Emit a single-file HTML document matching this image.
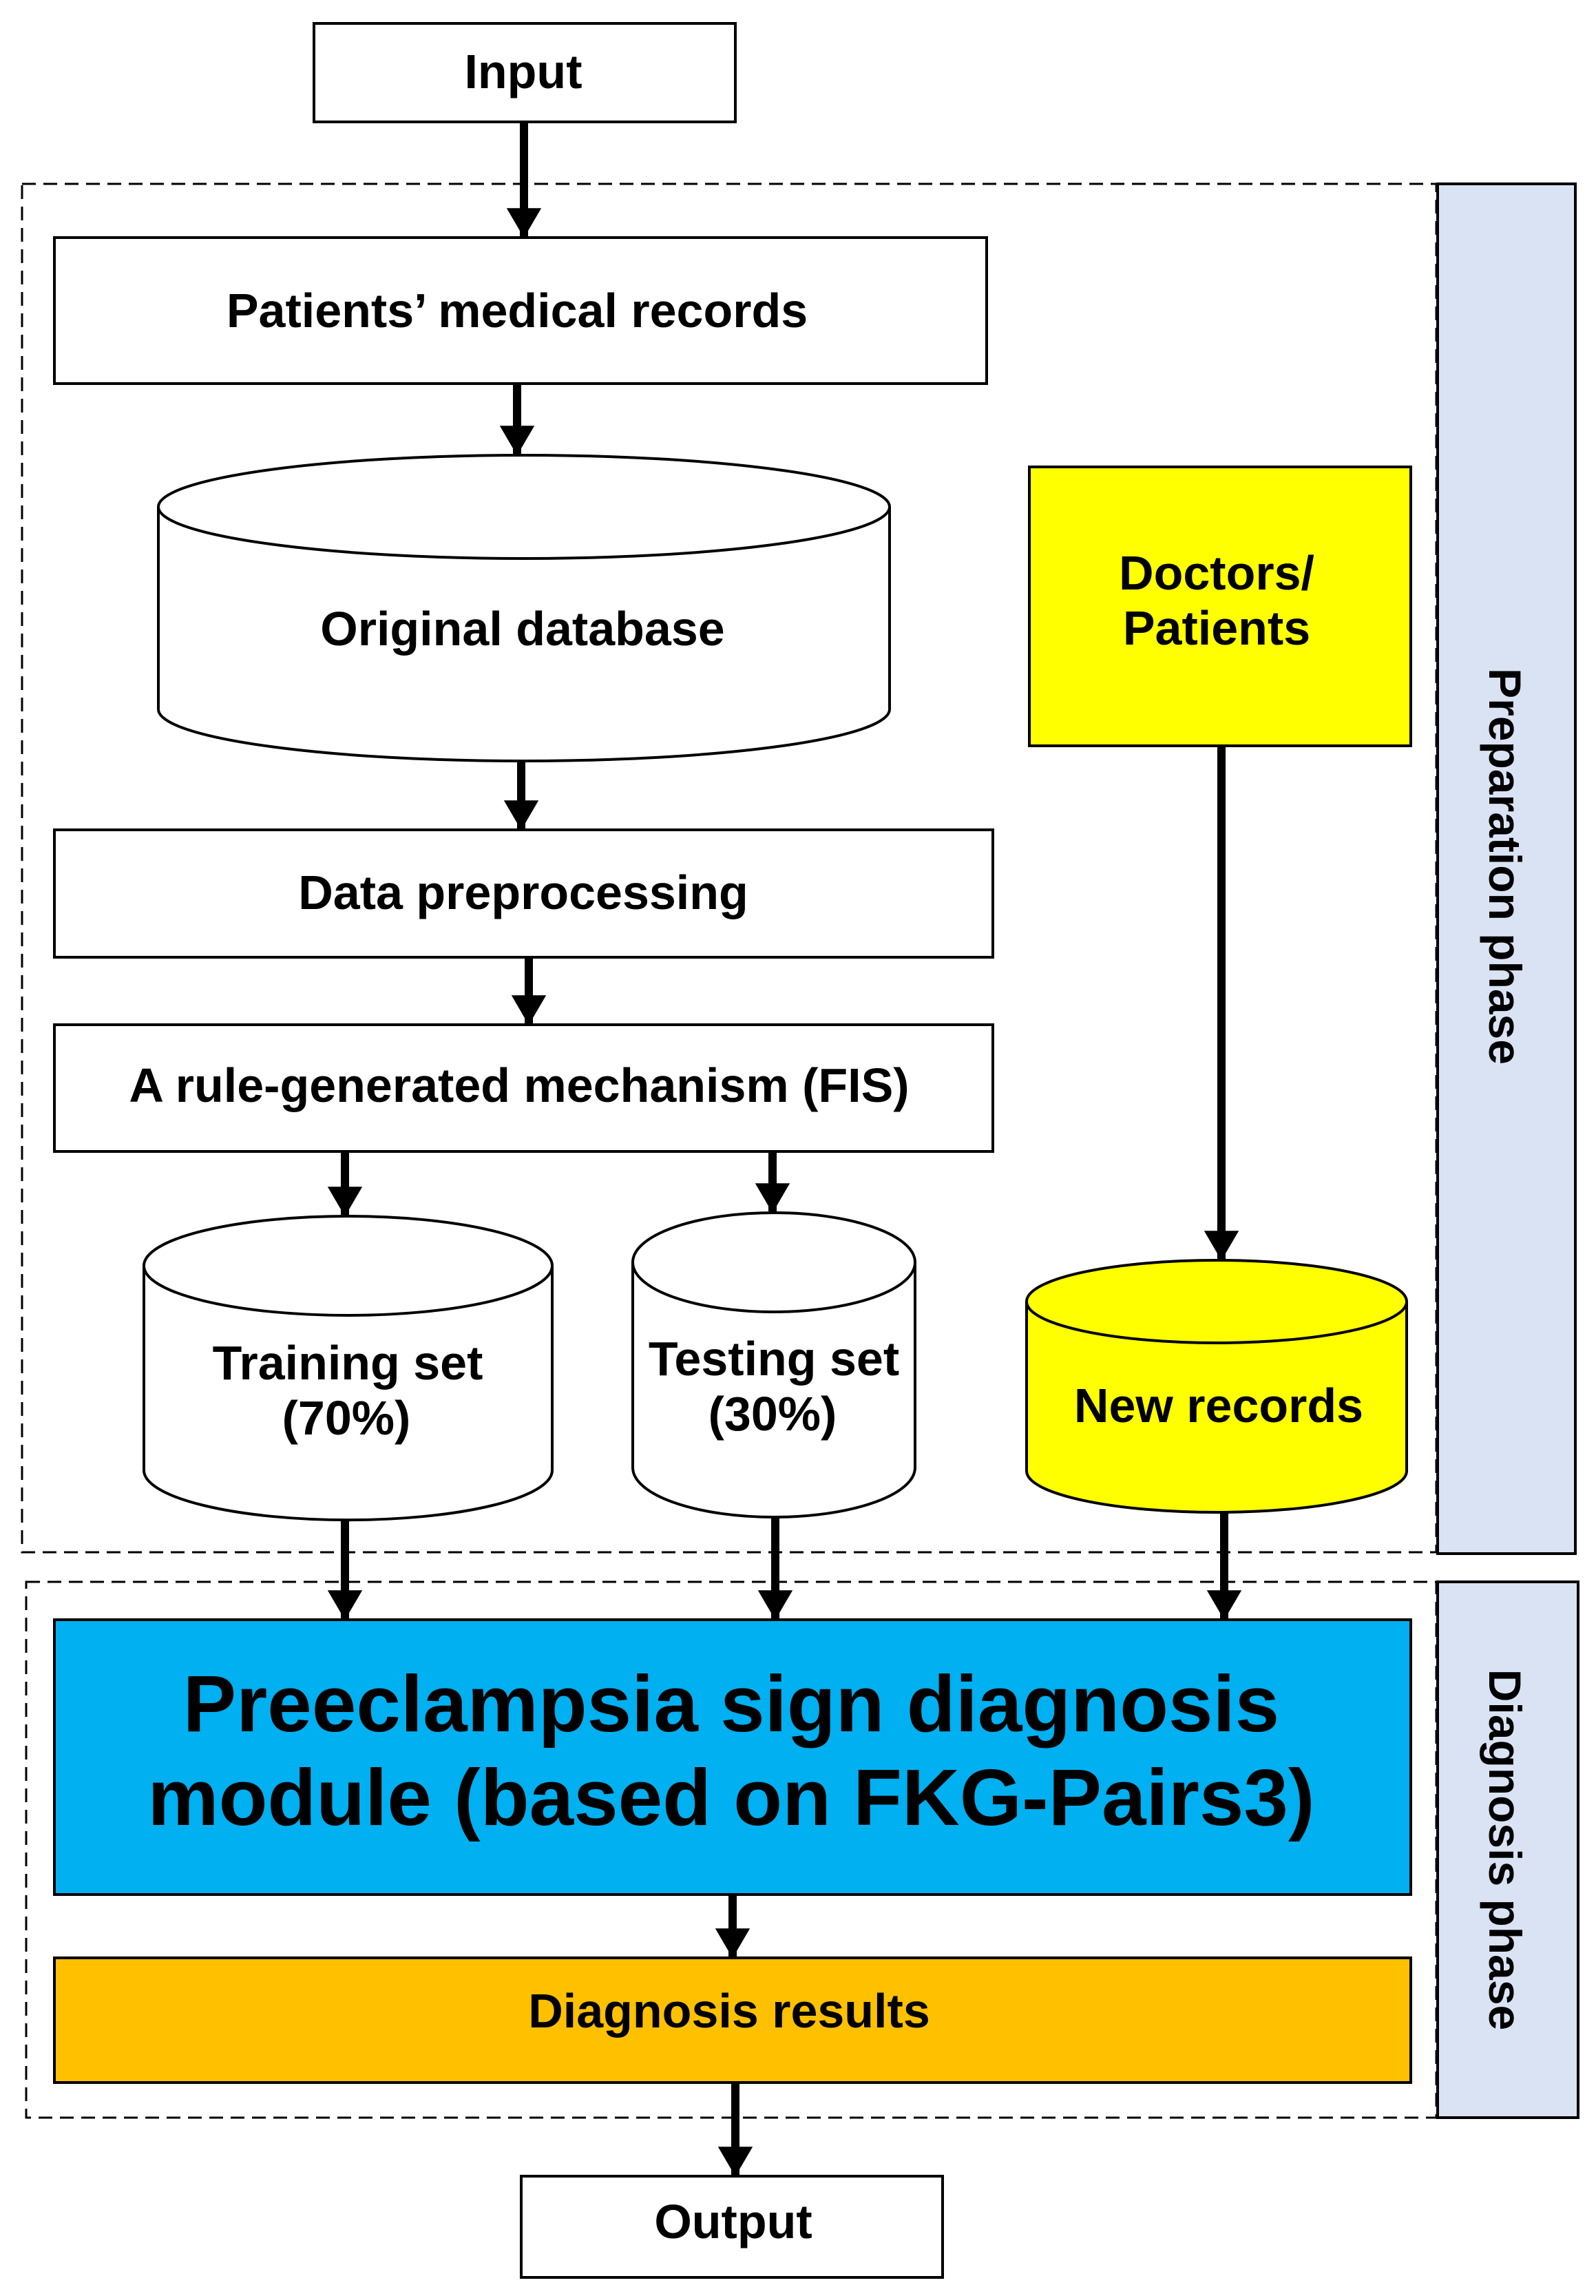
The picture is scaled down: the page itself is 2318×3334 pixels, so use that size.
<!DOCTYPE html>
<html><head><meta charset="utf-8"><style>html,body{margin:0;padding:0;background:#fff}svg{display:block}text{font-family:"Liberation Sans",Arial,sans-serif;font-weight:bold;fill:#000}</style></head><body>
<svg width="2318" height="3334" viewBox="0 0 2318 3334" xmlns="http://www.w3.org/2000/svg">
<defs><marker id="a" markerWidth="5" markerHeight="5" refX="3.4" refY="2.2" orient="auto" markerUnits="strokeWidth"><path d="M0,0.1 L3.6,2.2 L0,4.3 Z" fill="#000"/></marker></defs>
<g stroke="#000" stroke-width="4">
<rect x="456" y="34" width="612" height="143" fill="#fff"/>
<rect x="32" y="267" width="2054" height="1987" fill="none" stroke-width="3" stroke-dasharray="20 11"/>
<rect x="2088" y="267" width="200" height="1989" fill="#dae3f3"/>
<rect x="79" y="345" width="1354" height="212" fill="#fff"/>
<path d="M230,736 L230,1030 A531,75 0 0 0 1292,1030 L1292,736" fill="#fff"/>
<ellipse cx="761" cy="736" rx="531" ry="75" fill="#fff"/>
<rect x="79" y="1205" width="1363" height="185" fill="#fff"/>
<rect x="79" y="1488" width="1363" height="184" fill="#fff"/>
<path d="M209,1838 L209,2135 A296,72 0 0 0 802,2135 L802,1838" fill="#fff"/>
<ellipse cx="505.5" cy="1838" rx="296.5" ry="72" fill="#fff"/>
<path d="M919,1833 L919,2131 A205,72 0 0 0 1329,2131 L1329,1833" fill="#fff"/>
<ellipse cx="1124" cy="1833" rx="205" ry="72" fill="#fff"/>
<rect x="1495" y="678" width="554" height="405" fill="#ffff00"/>
<path d="M1491,1890 L1491,2136 A276,60 0 0 0 2043,2136 L2043,1890" fill="#ffff00"/>
<ellipse cx="1767" cy="1890" rx="276" ry="60" fill="#ffff00"/>
<rect x="38" y="2297" width="2048" height="778" fill="none" stroke-width="3" stroke-dasharray="20 11"/>
<rect x="2088" y="2297" width="204" height="778" fill="#dae3f3"/>
<rect x="79" y="2352" width="1970" height="399" fill="#00b0f0"/>
<rect x="79" y="2843" width="1970" height="181" fill="#ffc000"/>
<rect x="757" y="3160" width="612" height="147" fill="#fff"/>
</g>
<g stroke="#000" stroke-width="12" marker-end="url(#a)">
<line x1="761" y1="177" x2="761" y2="343"/>
<line x1="751" y1="557" x2="751" y2="659"/>
<line x1="757" y1="1105" x2="757" y2="1203"/>
<line x1="768" y1="1390" x2="768" y2="1486"/>
<line x1="501" y1="1672" x2="501" y2="1764"/>
<line x1="1122" y1="1672" x2="1122" y2="1759"/>
<line x1="1774" y1="1083" x2="1774" y2="1828"/>
<line x1="501" y1="2207" x2="501" y2="2350"/>
<line x1="1126" y1="2203" x2="1126" y2="2350"/>
<line x1="1778" y1="2196" x2="1778" y2="2350"/>
<line x1="1064" y1="2751" x2="1064" y2="2841"/>
<line x1="1068" y1="3024" x2="1068" y2="3158"/>
</g>
<g font-size="70" text-anchor="middle">
<text x="760" y="128">Input</text>
<text x="751" y="475">Patients’ medical records</text>
<text x="759" y="937">Original database</text>
<text x="760" y="1320">Data preprocessing</text>
<text x="754" y="1600">A rule-generated mechanism (FIS)</text>
<text x="505" y="2003">Training set</text>
<text x="503" y="2083">(70%)</text>
<text x="1124" y="1997">Testing set</text>
<text x="1122" y="2077">(30%)</text>
<text x="1767" y="856">Doctors/</text>
<text x="1767" y="936">Patients</text>
<text x="1770" y="2065">New records</text>
<text x="1059" y="2944">Diagnosis results</text>
<text x="1065" y="3250">Output</text>
</g>
<g font-size="66" text-anchor="middle">
<text transform="translate(2163,1258) rotate(90)">Preparation phase</text>
<text transform="translate(2163,2686) rotate(90)">Diagnosis phase</text>
</g>
<g font-size="116" text-anchor="middle">
<text x="1062" y="2514">Preeclampsia sign diagnosis</text>
<text x="1062" y="2650">module (based on FKG-Pairs3)</text>
</g>
</svg>
</body></html>
